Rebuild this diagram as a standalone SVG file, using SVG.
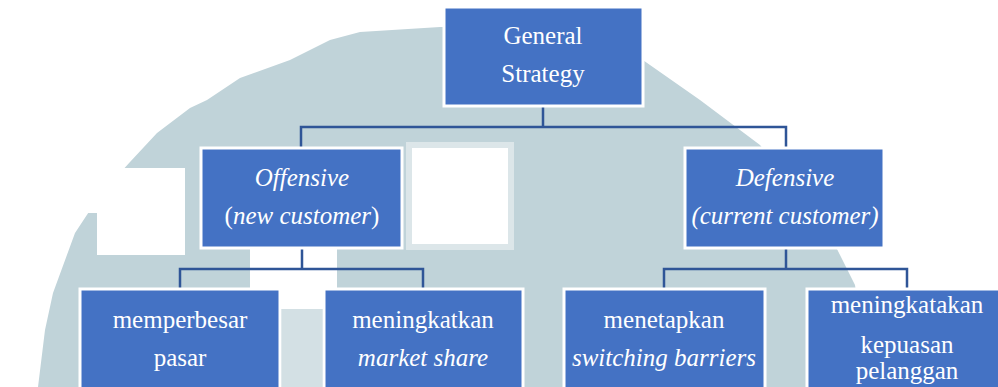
<svg xmlns="http://www.w3.org/2000/svg" width="998" height="387" viewBox="0 0 998 387">
<style>
.box{fill:#4472C4;stroke:#FFFFFF;stroke-width:3}
.t{font-family:"Liberation Serif","Times New Roman",serif;font-size:25px;fill:#FFFFFF;text-anchor:middle}
.i{font-style:italic}
.c{fill:none;stroke:#2F5597;stroke-width:2.5}
.wm{fill:#C0D3D9}
.wh{fill:#FFFFFF}
</style>
<rect width="998" height="387" fill="#FFFFFF"/>
<g id="watermark">
<path class="wm" d="M38 387 L45 330 L53 293 L75 233 L100 195 L130 162 L157 133 L190 108 L207 100 L240 78 L290 60 L330 40 L360 32 L440 27 L560 27 L640 58 L700 100 L760 145 L800 195 L835 245 L855 285 L870 387 Z"/>
<path class="wh" d="M60 168 L185 168 L185 255 L97 255 L97 213 L75 213 L75 168 Z"/>
<rect class="wh" x="250" y="249" width="87" height="60"/>
<rect x="282" y="309" width="40" height="78" fill="#D3E0E4"/>
<rect x="406" y="142" width="108" height="108" fill="#DCE6E9"/>
<rect class="wh" x="412" y="148" width="96" height="96"/>
</g>
<g id="connectors">
<path class="c" d="M543 106 V127 M301 148 V127 H786 V148"/>
<path class="c" d="M302 249 V269 M180 290 V269 H423 V290"/>
<path class="c" d="M786 249 V269 M664 290 V269 H907 V290"/>
</g>
<g id="general">
<rect class="box" x="444" y="7" width="199" height="99"/>
<text class="t" x="543" y="44">General</text>
<text class="t" x="543" y="82">Strategy</text>
</g>
<g id="offensive">
<rect class="box" x="201" y="148" width="201" height="100"/>
<text class="t i" x="302" y="186">Offensive</text>
<text class="t" x="302" y="224">(<tspan class="i">new customer</tspan>)</text>
</g>
<g id="defensive">
<rect class="box" x="685" y="148" width="199" height="100"/>
<text class="t i" x="785" y="186">Defensive</text>
<text class="t i" x="785" y="224">(current customer)</text>
</g>
<g id="memperbesar">
<rect class="box" x="80" y="289" width="200" height="110"/>
<text class="t" x="180" y="328">memperbesar</text>
<text class="t" x="180" y="366">pasar</text>
</g>
<g id="market-share">
<rect class="box" x="324" y="289" width="199" height="110"/>
<text class="t" x="423" y="328">meningkatkan</text>
<text class="t i" x="423" y="366">market share</text>
</g>
<g id="switching">
<rect class="box" x="564" y="289" width="201" height="110"/>
<text class="t" x="664" y="328">menetapkan</text>
<text class="t i" x="664" y="366">switching barriers</text>
</g>
<g id="kepuasan">
<rect class="box" x="807" y="289" width="201" height="110"/>
<text class="t" x="907" y="313">meningkatakan</text>
<text class="t" x="907" y="353">kepuasan</text>
<text class="t" x="907" y="379">pelanggan</text>
</g>
</svg>
